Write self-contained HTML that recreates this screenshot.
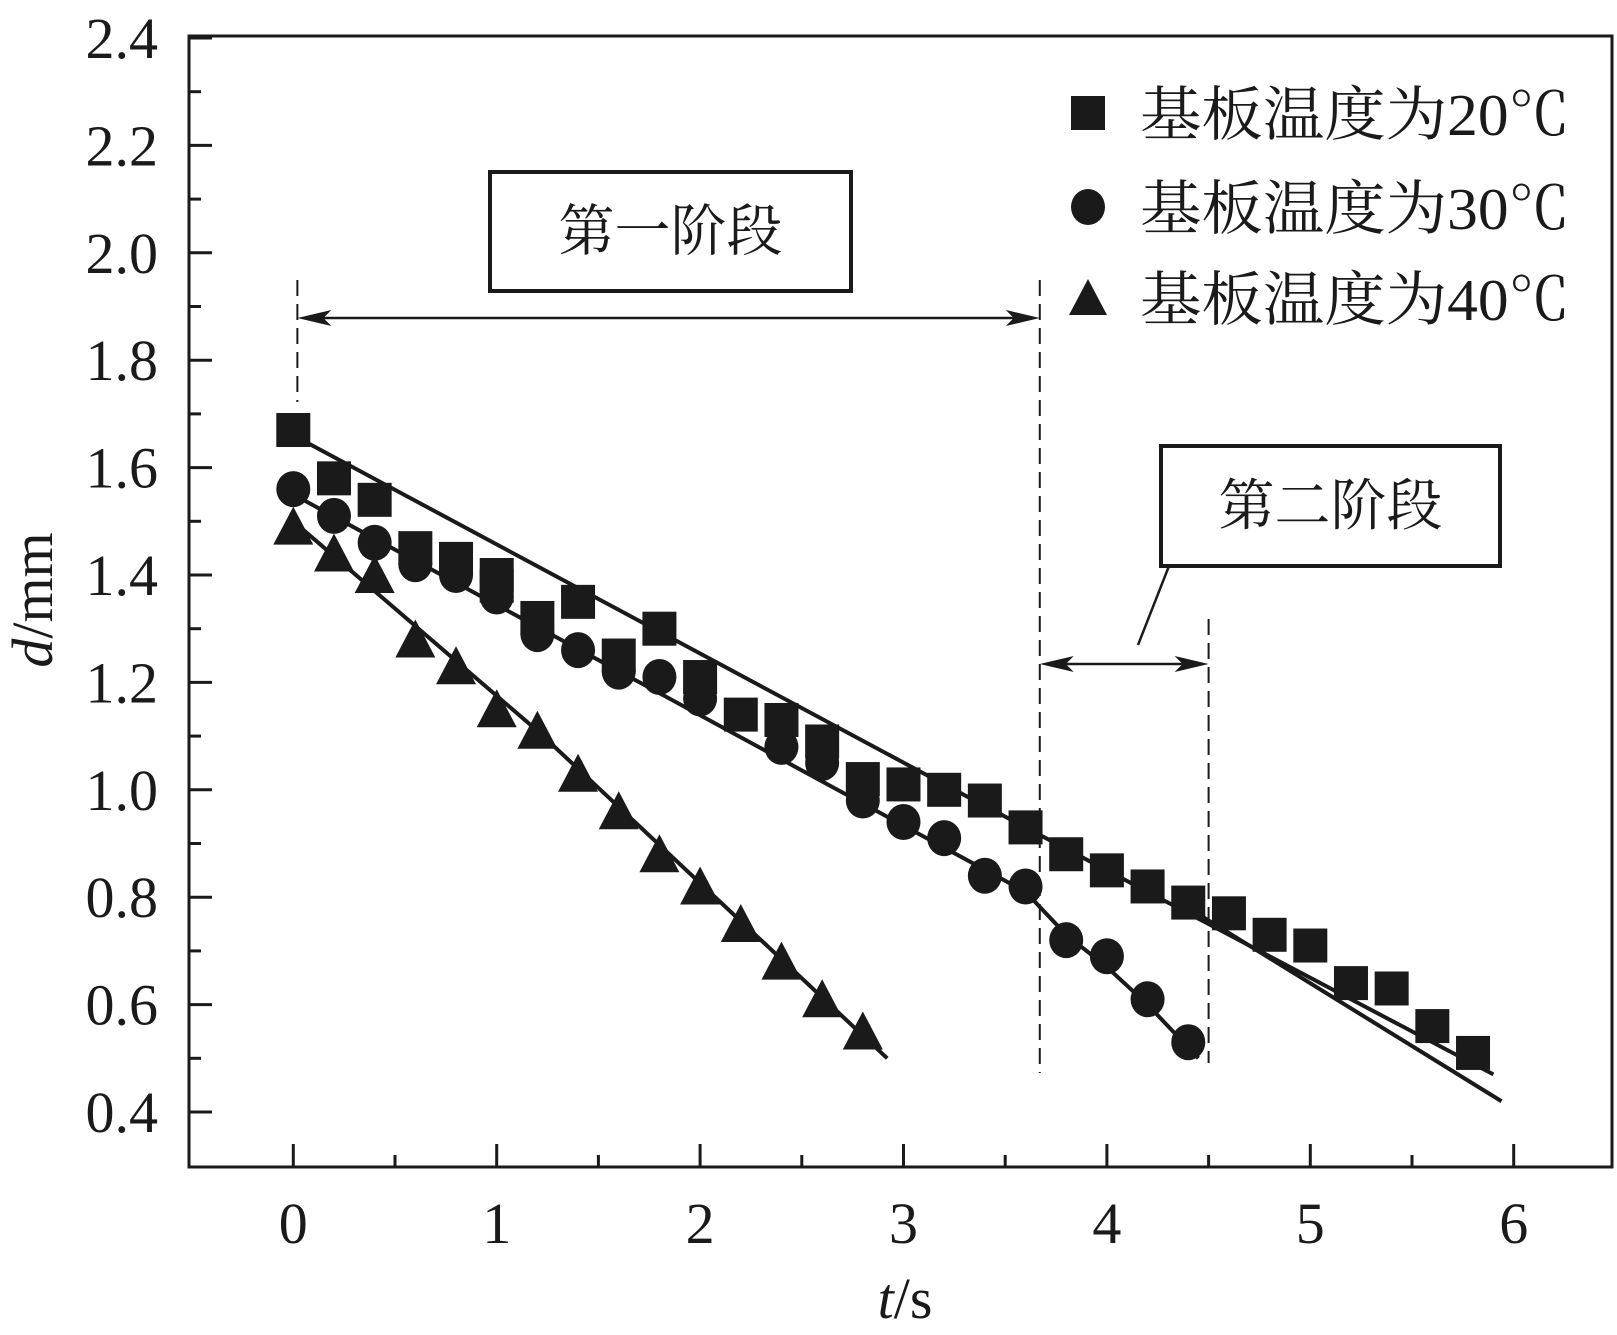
<!DOCTYPE html>
<html><head><meta charset="utf-8"><style>
html,body{margin:0;padding:0;background:#fff}
svg{display:block}
text{font-family:"Liberation Serif","Noto Serif CJK SC",serif;fill:#1a1a1a}
</style></head><body>
<svg id="chart" width="1617" height="1335" viewBox="0 0 1617 1335">
<g id="axes"></g>
<g id="fits"></g>
<g id="marks"></g>
<g id="annot"></g>
</svg>
<script>
const xTicks=[0,1,2,3,4,5,6];
const yTicks=[0.4,0.6,0.8,1.0,1.2,1.4,1.6,1.8,2.0,2.2,2.4];
const yTickLabels=["0.4","0.6","0.8","1.0","1.2","1.4","1.6","1.8","2.0","2.2","2.4"];
const tSq=[0,0.2,0.4,0.6,0.8,1.0,1.0,1.2,1.4,1.6,1.8,2.0,2.2,2.4,2.6,2.8,3.0,3.2,3.4,3.6,3.8,4.0,4.2,4.4,4.6,4.8,5.0,5.2,5.4,5.6,5.8];
const dSq=[1.67,1.58,1.54,1.45,1.43,1.40,1.38,1.32,1.35,1.25,1.30,1.21,1.14,1.13,1.09,1.02,1.01,1.00,0.98,0.93,0.88,0.85,0.82,0.79,0.77,0.73,0.71,0.64,0.63,0.56,0.51];
const tCi=[0,0.2,0.4,0.6,0.8,1.0,1.2,1.4,1.6,1.8,2.0,2.4,2.6,2.8,3.0,3.2,3.4,3.6,3.8,4.0,4.2,4.4];
const dCi=[1.56,1.51,1.46,1.42,1.40,1.36,1.29,1.26,1.22,1.21,1.17,1.08,1.05,0.98,0.94,0.91,0.84,0.82,0.72,0.69,0.61,0.53];
const tTr=[0,0.2,0.4,0.6,0.8,1.0,1.2,1.4,1.6,1.8,2.0,2.2,2.4,2.6,2.8];
const dTr=[1.49,1.44,1.40,1.28,1.23,1.15,1.11,1.03,0.96,0.88,0.82,0.75,0.68,0.61,0.55];
const fitSqA_t=[0.05,3.2,5.9], fitSqA_d=[1.65,1.01,0.47];
const fitSqB_t=[4.4,5.94], fitSqB_d=[0.78,0.42];
const fitCi_t=[0,3.6,3.8,4.0,4.2,4.45], fitCi_d=[1.55,0.81,0.73,0.67,0.60,0.50];
const fitTr_t=[0,1.2,2.92], fitTr_d=[1.50,1.11,0.50];

const NS="http://www.w3.org/2000/svg";
const X=t=>293.3+203.4*t;
const Y=d=>1112-(d-0.4)*537;
function mk(tag,attrs,parent,txt){const e=document.createElementNS(NS,tag);for(const k in attrs)e.setAttribute(k,attrs[k]);if(txt!==undefined)e.textContent=txt;parent.appendChild(e);return e;}
const axes=document.getElementById('axes'),fits=document.getElementById('fits'),marks=document.getElementById('marks'),annot=document.getElementById('annot');
const L=189,R=1612,T=36,B=1167;
let fr=mk('rect',{x:L,y:T,width:R-L,height:B-T,fill:'none',stroke:'#1a1a1a','stroke-width':3},axes);


for(let i=0;i<=24;i++){const d=0.4+i*0.1;if(d>2.41)break;const y=Y(d);const major=i%2===0;
 let tk=mk('line',{x1:L,x2:L+(major?23:12),y1:y,y2:y,stroke:'#1a1a1a','stroke-width':3},axes);
 
 }
yTicks.forEach((v,i)=>{let t=mk('text',{x:158,y:Y(v)+20,'text-anchor':'end','font-size':58},axes,yTickLabels[i]);
 
 });
for(let i=0;i<=12;i++){const t=i*0.5;const x=X(t);const major=i%2===0;
 let tk=mk('line',{x1:x,x2:x,y1:B,y2:B-(major?23:12),stroke:'#1a1a1a','stroke-width':3},axes);
 
 }
xTicks.forEach(v=>{let t=mk('text',{x:X(v),y:1243,'text-anchor':'middle','font-size':58},axes,String(v));
 
 });
let xt=mk('text',{x:905,y:1318,'text-anchor':'middle','font-size':58},axes);


mk('tspan',{'font-style':'italic'},xt,'t');mk('tspan',{},xt,'/s');
let yt=mk('text',{x:0,y:0,'text-anchor':'middle','font-size':58,transform:'translate(52,600) rotate(-90)'},axes);


mk('tspan',{'font-style':'italic'},yt,'d');mk('tspan',{},yt,'/mm');

function poly(ts,ds,name){const p=ts.map((t,i)=>X(t)+','+Y(ds[i])).join(' ');
 let e=mk('polyline',{points:p,fill:'none',stroke:'#1a1a1a','stroke-width':4},fits);
 
 }
poly(fitSqA_t,fitSqA_d,'fit-line-20c');poly(fitSqB_t,fitSqB_d,'fit-line-20c-stage2');
poly(fitCi_t,fitCi_d,'fit-line-30c');poly(fitTr_t,fitTr_d,'fit-line-40c');

function sq(cx,cy,s,p){return mk('rect',{x:cx-s/2,y:cy-s/2,width:s,height:s,fill:'#1a1a1a'},p);}
function ci(cx,cy,s,p){return mk('ellipse',{cx:cx,cy:cy,rx:s/2,ry:s/2+1,fill:'#1a1a1a'},p);}
function tr(cx,cy,s,p){return mk('polygon',{points:`${cx},${cy-s/2-2} ${cx-s/2-2},${cy+s/2} ${cx+s/2+2},${cy+s/2}`,fill:'#1a1a1a'},p);}
tSq.forEach((t,i)=>{let e=sq(X(t),Y(dSq[i]),34,marks);
 
 });
tCi.forEach((t,i)=>{let e=ci(X(t),Y(dCi[i]),34,marks);
 
 });
tTr.forEach((t,i)=>{let e=tr(X(t),Y(dTr[i]),36,marks);
 
 });

// legend
const lg=[['20',113,sq],['30',207,ci],['40',298,tr]];
lg.forEach(([v,y,f])=>{let m=f(1088,y,34,annot);
 
 
 let t=mk('text',{x:1140,y:y+22,'font-size':59,textLength:430,lengthAdjust:'spacingAndGlyphs'},annot,'基板温度为'+v+'℃');
 
 });

// dashed lines
[[X(0.02),280,402],[X(3.67),280,1073],[X(4.5),619,1063]].forEach(([x,a,b])=>{
 let e=mk('line',{x1:x,x2:x,y1:a,y2:b,stroke:'#1a1a1a','stroke-width':2,'stroke-dasharray':'16,8'},annot);
 
 });
function arrow(x1,x2,y,name){let g=mk('g',{},annot);
 
 
 mk('line',{x1:x1+10,x2:x2-10,y1:y,y2:y,stroke:'#1a1a1a','stroke-width':2.5},g);
 mk('polygon',{points:`${x1},${y} ${x1+34},${y-8} ${x1+26},${y} ${x1+34},${y+8}`,fill:'#1a1a1a'},g);
 mk('polygon',{points:`${x2},${y} ${x2-34},${y-8} ${x2-26},${y} ${x2-34},${y+8}`,fill:'#1a1a1a'},g);}
arrow(X(0.02),X(3.67),318,'stage1-arrow');
arrow(X(3.67),X(4.5),664,'stage2-arrow');
function box(x,y,w,h,label,name){let g=mk('g',{},annot);
 
 
 mk('rect',{x:x,y:y,width:w,height:h,fill:'#fff',stroke:'#1a1a1a','stroke-width':4},g);
 mk('text',{x:x+w/2,y:y+h/2+19,'text-anchor':'middle','font-size':56},g,label);}
box(490,172,361,119,'第一阶段','stage1-label-box');
box(1161,446,339,120,'第二阶段','stage2-label-box');
let ld=mk('line',{x1:1169,y1:566,x2:1138,y2:645,stroke:'#1a1a1a','stroke-width':2.5},annot);


</script>
</body></html>
